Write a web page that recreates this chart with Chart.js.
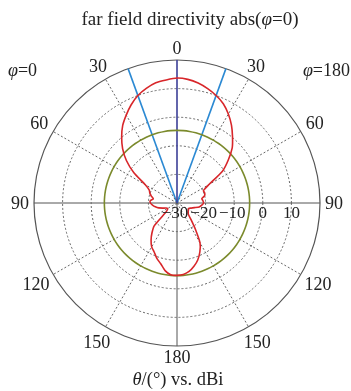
<!DOCTYPE html>
<html>
<head>
<meta charset="utf-8">
<script src="https://cdn.jsdelivr.net/npm/chart.js@4.4.1/dist/chart.umd.min.js"></script>
<style>
  html, body { margin: 0; padding: 0; background: #fff; }
  #wrap { width: 351px; height: 391px; }
</style>
</head>
<body>
<div id="wrap"><canvas id="polar" width="351" height="391"></canvas></div>
<script>
// theta (deg) measured from the beam axis, used by both half planes
const thetaDeg = [0, 5, 10, 15, 20, 25, 30, 35, 40, 45, 50, 55, 60, 65, 70, 75, 80, 85, 90,
                  95, 100, 105, 110, 115, 120, 125, 130, 135, 140, 145, 150, 155, 160, 165, 170, 175, 180];

// directivity in dBi, phi = 180 half (right side of the plot)
const dirPhi180 = [13.7, 13.4, 12.6, 11.4, 10.0, 8.3, 5.9, 3.2, 0.2, -2.7, -6.6, -10.6, -17.1, -19.8, -19.7, -20.0, -21.2, -20.9, -20.7,
                   -21.3, -22.1, -23.7, -24.8, -25.5, -25.4, -25.2, -24.9, -24.4, -22.3, -18.8, -13.9, -11.1, -8.8, -7.1, -5.7, -4.9, -4.7];

// directivity in dBi, phi = 0 half (left side of the plot)
const dirPhi0 = [13.7, 13.2, 12.7, 11.5, 10.0, 7.9, 5.5, 3.1, 0.1, -3.1, -6.9, -11.6, -17.1, -19.3, -19.9, -20.7, -21.6, -20.6, -20.7,
                 -21.4, -22.3, -23.4, -24.8, -25.8, -26.2, -25.9, -24.8, -18.8, -16.4, -14.2, -12.3, -11.1, -9.4, -8.0, -6.0, -4.8, -4.7];

const refLevel = -4.6;      // green reference circle (dBi)
const beamEdge = 20;        // blue lines, +/- theta
const rTicks = [-30, -20, -10, 0, 10, 20];
const thetaTicks = [0, 30, 60, 90, 120, 150, 180];

// radar goes clockwise from the top: right half first, then left half back up
const labels = thetaDeg.concat(thetaDeg.slice(1, -1).reverse());
const cwAngle = thetaDeg.concat(thetaDeg.slice(1, -1).reverse().map(t => 360 - t));
const values = dirPhi180.concat(dirPhi0.slice(1, -1).reverse());

const SERIF = '"Liberation Serif", "DejaVu Serif", serif';

function drawParts(ctx, parts, x, y, size, align) {
    let total = 0;
    parts.forEach(p => {
        ctx.font = (p.it ? 'italic ' : '') + size + 'px ' + SERIF;
        p.w = ctx.measureText(p.t).width;
        total += p.w;
    });
    let cx = align === 'center' ? x - total / 2 : (align === 'right' ? x - total : x);
    ctx.textAlign = 'left';
    ctx.textBaseline = 'alphabetic';
    parts.forEach(p => {
        ctx.font = (p.it ? 'italic ' : '') + size + 'px ' + SERIF;
        ctx.fillText(p.t, cx, y);
        cx += p.w;
    });
}

const textPlugin = {
    id: 'polarText',
    afterDraw(chart) {
        const ctx = chart.ctx;
        const sc = chart.scales.r;
        ctx.save();
        ctx.fillStyle = '#222';

        // radial tick labels along the right horizontal axis
        ctx.font = '17px ' + SERIF;
        ctx.textAlign = 'center';
        ctx.textBaseline = 'middle';
        rTicks.slice(0, -1).forEach(v => {
            const txt = v < 0 ? '\u2212' + Math.abs(v) : String(v);
            const shift = v < 0 ? -2 : 0;
            ctx.fillText(txt, sc.xCenter + sc.getDistanceFromCenterForValue(v) + shift, sc.yCenter + 11);
        });

        // theta labels round the outer ring
        ctx.font = '18px ' + SERIF;
        labels.forEach((t, i) => {
            if (!thetaTicks.includes(t)) return;
            const a = cwAngle[i] * Math.PI / 180;
            const w = ctx.measureText(String(t)).width;
            const h = 13;
            const d = sc.drawingArea + 5 + Math.abs(Math.sin(a)) * w / 2 + Math.abs(Math.cos(a)) * h / 2;
            const pos = sc.getPointPosition(i, d);
            ctx.fillText(String(t), pos.x, pos.y + 1);
        });

        drawParts(ctx, [{t: 'far field directivity abs('}, {t: '\u03c6', it: true}, {t: '=0)'}], 190, 25, 19, 'center');
        drawParts(ctx, [{t: '\u03c6', it: true}, {t: '=0'}], 8, 76, 18, 'left');
        drawParts(ctx, [{t: '\u03c6', it: true}, {t: '=180'}], 350, 76, 18, 'right');
        drawParts(ctx, [{t: '\u03b8', it: true}, {t: '/(\u00b0) vs. dBi'}], 178, 385, 18.5, 'center');
        ctx.restore();
    }
};

function angleStyle(i) {
    const a = cwAngle[i];
    if (a === 0) return {color: '#3c3f97', lw: 1.6, dash: []};
    if (a === beamEdge || a === 360 - beamEdge) return {color: '#2b89d3', lw: 1.6, dash: []};
    if (a % 90 === 0) return {color: '#555', lw: 1, dash: []};
    if (a % 30 === 0) return {color: '#666', lw: 1, dash: [2, 2]};
    return {color: 'rgba(0,0,0,0)', lw: 0, dash: []};
}

new Chart(document.getElementById('polar'), {
    type: 'radar',
    data: {
        labels: labels,
        datasets: [
            {
                data: values,
                borderColor: '#d8262a',
                borderWidth: 1.6,
                pointRadius: 0,
                fill: false,
                tension: 0.2
            },
            {
                data: labels.map(() => refLevel),
                borderColor: '#7b8a2c',
                borderWidth: 1.6,
                pointRadius: 0,
                fill: false,
                tension: 0.4
            }
        ]
    },
    options: {
        responsive: false,
        animation: false,
        layout: { padding: { left: 34, right: 31, top: 60, bottom: 45 } },
        plugins: { legend: { display: false }, tooltip: { enabled: false } },
        scales: {
            r: {
                min: rTicks[0],
                max: rTicks[rTicks.length - 1],
                startAngle: 0,
                ticks: { display: false, stepSize: 10 },
                pointLabels: { display: false },
                grid: {
                    circular: true,
                    color: ctx => ctx.index === 0 ? 'rgba(0,0,0,0)' : (ctx.tick.value === 20 ? '#555' : '#666'),
                    lineWidth: ctx => ctx.tick && ctx.tick.value === 20 ? 1.2 : 1
                },
                border: {
                    dash: ctx => ctx.tick && ctx.tick.value === 20 ? [] : [2, 2]
                },
                angleLines: {
                    color: ctx => angleStyle(ctx.index).color,
                    lineWidth: ctx => angleStyle(ctx.index).lw,
                    borderDash: ctx => angleStyle(ctx.index).dash
                }
            }
        }
    },
    plugins: [textPlugin]
});
</script>
</body>
</html>
